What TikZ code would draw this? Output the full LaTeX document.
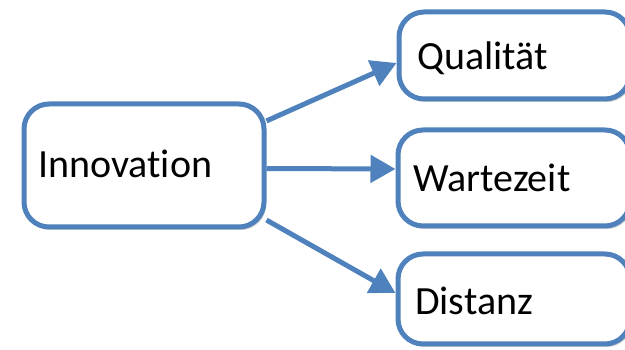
\documentclass[tikz,border=0pt]{standalone}
\usepackage{fontspec}
\setmainfont[RawFeature=-liga]{Carlito}
\usetikzlibrary{arrows.meta,shadows}
\definecolor{boxblue}{RGB}{79,129,189}
\begin{document}
\begin{tikzpicture}[x=1pt,y=-1pt,
  box/.style={draw=boxblue, line width=5pt, fill=white, rounded corners=25pt,
    inner sep=0pt, drop shadow={shadow xshift=2pt, shadow yshift=-3pt, opacity=0.18, fill=black}},
  lbl/.style={anchor=base west, inner sep=0pt, font=\fontsize{40}{48}\selectfont, text=black},
  conn/.style={draw=boxblue, line width=5pt, -{Triangle[length=25pt,width=27pt]}}]
\clip (0,0) rectangle (625,350);
\node[box, minimum width=240pt, minimum height=123pt] (innov) at (144,165.5) {};
\node[box, minimum width=231pt, minimum height=87pt] (qual) at (514.5,55.5) {};
\node[box, minimum width=232pt, minimum height=96pt] (wart) at (514,178) {};
\node[box, minimum width=232pt, minimum height=90pt] (dist) at (514,299) {};
\node[lbl] (innovt) at (38,178) {Innovation};
\node[lbl] (qualt) at (417,70) {Qualität};
\node[lbl] (wartt) at (413,192) {Wartezeit};
\node[lbl] (distt) at (415,315) {Distanz};
\draw[conn] (innov.20) -- ([yshift=-7.5pt]qual.west);
\draw[conn] ([yshift=-3pt]innov.east) -- ([yshift=9pt]wart.west);
\draw[conn] (innov.-24) -- ([yshift=6pt]dist.west);
\end{tikzpicture}
\end{document}
